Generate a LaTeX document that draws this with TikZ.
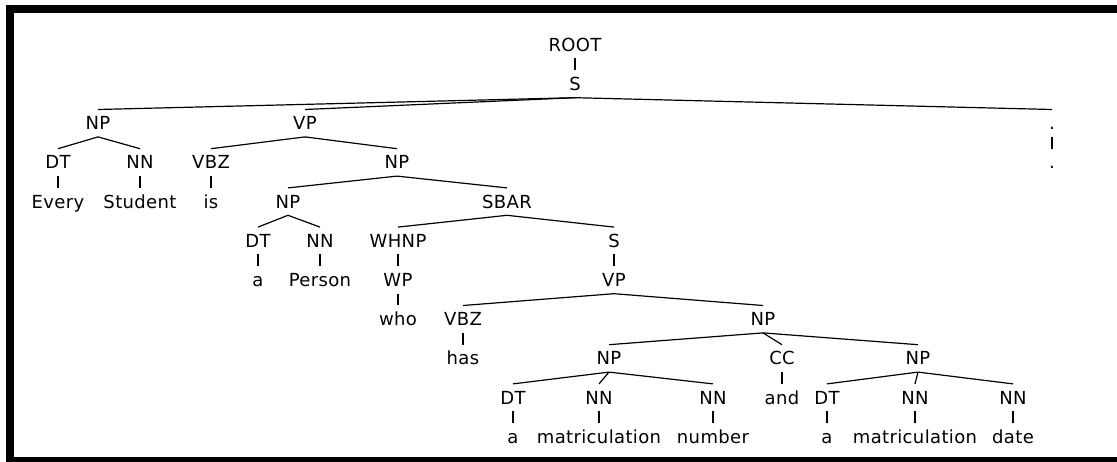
\documentclass[tikz,border=0pt]{standalone}
\usepackage{fontspec}
\setmainfont{DejaVu Sans}[LetterSpace=2]
\begin{document}
\begin{tikzpicture}[x=1pt,y=-1pt,
  lbl/.style={anchor=base,inner xsep=0pt,inner ysep=0pt,text height=20pt,text depth=7pt,
              font=\fontsize{18}{20}\selectfont},
  br/.style={line width=1.2pt,black}]
\useasboundingbox (0,0) rectangle (1117,462);
% frame
\fill[black] (5.5,5.5) rectangle (1117,13.5);
\fill[black] (5.5,5.5) rectangle (13.5,462);
\fill[black] (5.5,457) rectangle (1117,462);
% rows (baselines)
\def\rA{51.3}\def\rB{90.5}\def\rC{129.7}\def\rD{168.9}\def\rE{208.1}\def\rF{247.3}
\def\rG{286.5}\def\rH{325.7}\def\rI{364.9}\def\rJ{404.1}\def\rK{443.3}
\node[lbl] (root) at (575,\rA) {ROOT};
\node[lbl] (s) at (575,\rB) {S};
\node[lbl] (np1) at (98,\rC) {NP};
\node[lbl] (vp1) at (305,\rC) {VP};
\node[lbl] (pl) at (1052,\rC) {.};
\node[lbl] (dt1) at (58,\rD) {DT};
\node[lbl] (nn1) at (140,\rD) {NN};
\node[lbl] (vbz1) at (211,\rD) {VBZ};
\node[lbl] (np2) at (397,\rD) {NP};
\node[lbl] (plw) at (1052,\rD) {.};
\node[lbl] (every) at (58,\rE) {Every};
\node[lbl] (student) at (140,\rE) {Student};
\node[lbl] (is) at (211,\rE) {is};
\node[lbl] (np3) at (288,\rE) {NP};
\node[lbl] (sbar) at (507,\rE) {SBAR};
\node[lbl] (dt2) at (258,\rF) {DT};
\node[lbl] (nn2) at (320,\rF) {NN};
\node[lbl] (whnp) at (398,\rF) {WHNP};
\node[lbl] (s2) at (614,\rF) {S};
\node[lbl] (a1) at (258,\rG) {a};
\node[lbl] (person) at (320,\rG) {Person};
\node[lbl] (wp) at (398,\rG) {WP};
\node[lbl] (vp2) at (614,\rG) {VP};
\node[lbl] (who) at (398,\rH) {who};
\node[lbl] (vbz2) at (463,\rH) {VBZ};
\node[lbl] (np4) at (763,\rH) {NP};
\node[lbl] (has) at (463,\rI) {has};
\node[lbl] (np5) at (609,\rI) {NP};
\node[lbl] (cc) at (782,\rI) {CC};
\node[lbl] (np6) at (918,\rI) {NP};
\node[lbl] (dt3) at (513,\rJ) {DT};
\node[lbl] (nn3) at (599,\rJ) {NN};
\node[lbl] (nn4) at (713,\rJ) {NN};
\node[lbl] (and) at (782,\rJ) {and};
\node[lbl] (dt4) at (827,\rJ) {DT};
\node[lbl] (nn5) at (915,\rJ) {NN};
\node[lbl] (nn6) at (1013,\rJ) {NN};
\node[lbl] (a2) at (513,\rK) {a};
\node[lbl] (mat1) at (599,\rK) {matriculation};
\node[lbl] (number) at (713,\rK) {number};
\node[lbl] (a3) at (827,\rK) {a};
\node[lbl] (mat2) at (915,\rK) {matriculation};
\node[lbl] (date) at (1013,\rK) {date};
% branches
\draw[br] (root.south) -- (s.north);
\draw[br] (s.south) -- (np1.north);
\draw[br] (s.south) -- (vp1.north);
\draw[br] (s.south) -- (pl.north);
\draw[br] (np1.south) -- (dt1.north);
\draw[br] (np1.south) -- (nn1.north);
\draw[br] (dt1.south) -- (every.north);
\draw[br] (nn1.south) -- (student.north);
\draw[br] (vp1.south) -- (vbz1.north);
\draw[br] (vp1.south) -- (np2.north);
\draw[br] (vbz1.south) -- (is.north);
\draw[br] (pl.south) -- (plw.north);
\draw[br] (np2.south) -- (np3.north);
\draw[br] (np2.south) -- (sbar.north);
\draw[br] (np3.south) -- (dt2.north);
\draw[br] (np3.south) -- (nn2.north);
\draw[br] (dt2.south) -- (a1.north);
\draw[br] (nn2.south) -- (person.north);
\draw[br] (sbar.south) -- (whnp.north);
\draw[br] (sbar.south) -- (s2.north);
\draw[br] (whnp.south) -- (wp.north);
\draw[br] (wp.south) -- (who.north);
\draw[br] (s2.south) -- (vp2.north);
\draw[br] (vp2.south) -- (vbz2.north);
\draw[br] (vp2.south) -- (np4.north);
\draw[br] (vbz2.south) -- (has.north);
\draw[br] (np4.south) -- (np5.north);
\draw[br] (np4.south) -- (cc.north);
\draw[br] (np4.south) -- (np6.north);
\draw[br] (cc.south) -- (and.north);
\draw[br] (np5.south) -- (dt3.north);
\draw[br] (np5.south) -- (nn3.north);
\draw[br] (np5.south) -- (nn4.north);
\draw[br] (dt3.south) -- (a2.north);
\draw[br] (nn3.south) -- (mat1.north);
\draw[br] (nn4.south) -- (number.north);
\draw[br] (np6.south) -- (dt4.north);
\draw[br] (np6.south) -- (nn5.north);
\draw[br] (np6.south) -- (nn6.north);
\draw[br] (dt4.south) -- (a3.north);
\draw[br] (nn5.south) -- (mat2.north);
\draw[br] (nn6.south) -- (date.north);
\end{tikzpicture}
\end{document}
